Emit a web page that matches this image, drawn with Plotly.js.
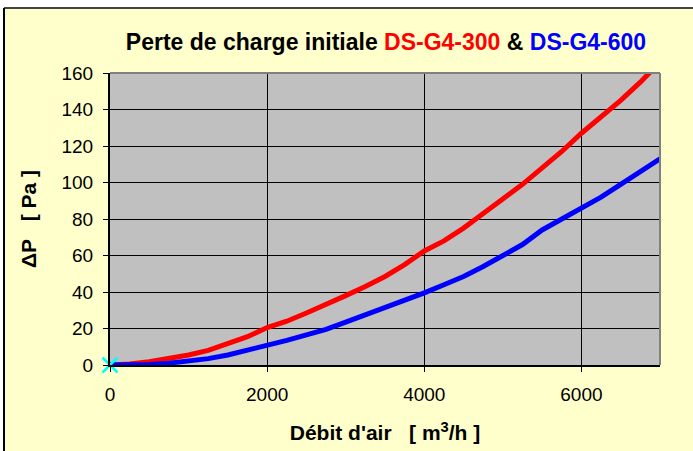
<!DOCTYPE html>
<html>
<head>
<meta charset="utf-8">
<script src="https://cdn.plot.ly/plotly-3.0.1.min.js"></script>
<style>html,body{margin:0;padding:0;background:#fff;}</style>
</head>
<body>
<div id="chart" style="width:693px;height:451px;"></div>
<script>
// Air flow (m3/h)
const flow = [0,250,500,750,1000,1250,1500,1750,2000,2250,2500,2750,3000,3250,3500,3750,4000,4250,4500,4750,5000,5250,5500,5750,6000,6250,6500,6750,7000];
// Pressure drop DS-G4-300 (Pa)
const dp300 = [0,0.5,1.8,3.5,5.5,8,11.5,15.5,20.5,24,28.5,33,38,43,48.5,55,62.5,68,75,83,91,99,108,117,127,136,145,155,166];
// Pressure drop DS-G4-600 (Pa)
const dp600 = [0,0,0.3,1,2,3.5,5.5,8,11,13.5,16.5,19.5,23.5,27.5,31.5,35,39.5,44,48.5,54,60,66,74,80,86,92,99,106,113];
const originX = [0];
const originY = [0];

const traces = [
  {x: flow, y: dp300, mode: 'lines', name: 'DS-G4-300', line: {color: '#FF0000', width: 5}},
  {x: flow, y: dp600, mode: 'lines', name: 'DS-G4-600', line: {color: '#0000FF', width: 5}},
  {x: originX, y: originY, mode: 'markers', name: 'origine', cliponaxis: false, marker: {symbol: 'x-thin-open', size: 15, color: '#00FFFF', line: {color: '#00FFFF', width: 2.5}}}
];

const W = 693, H = 451, L = 110, R = 33, T = 73, B = 86;
const pw = W - L - R, ph = H - T - B;
function px(x) { return (x - L) / pw; }
function py(y) { return (H - B - y) / ph; }

const layout = {
  width: W, height: H,
  margin: {l: L, r: R, t: T, b: B, pad: 0},
  paper_bgcolor: '#FFFFCC',
  plot_bgcolor: '#C0C0C0',
  showlegend: false,
  font: {family: 'Arial, Liberation Sans, sans-serif', color: '#000', size: 19},
  title: {
    text: '<b>Perte de charge initiale <span style="color:#FF0000">DS-G4-300</span> &amp; <span style="color:#0000FF">DS-G4-600</span></b>',
    font: {size: 23, family: 'Arial, Liberation Sans, sans-serif', color: '#000'},
    x: 386 / W, xanchor: 'center', y: 1 - 42 / H, yanchor: 'middle'
  },
  xaxis: {
    range: [0, 7000], dtick: 2000, tick0: 0,
    showgrid: true, gridcolor: '#000', gridwidth: 1,
    zeroline: false, showline: true, linecolor: '#000', linewidth: 2,
    ticks: 'outside', ticklen: 5, tickcolor: '#000', tickwidth: 1,
    ticklabelstandoff: 6,
    tickfont: {size: 19},
    title: {text: '<b>Débit d\'air&nbsp;&nbsp;&nbsp;[ m<sup>3</sup>/h ]</b>', font: {size: 21}, standoff: 22}
  },
  yaxis: {
    range: [0, 160], dtick: 20, tick0: 0,
    showgrid: true, gridcolor: '#000', gridwidth: 1,
    zeroline: false, showline: true, linecolor: '#000', linewidth: 2,
    ticks: 'outside', ticklen: 5, tickcolor: '#000', tickwidth: 1,
    ticklabelstandoff: 6,
    tickfont: {size: 19},
    title: {text: '<b>ΔP&nbsp;&nbsp;&nbsp;[ Pa ]</b>', font: {size: 21}, standoff: 19}
  },
  shapes: [
    // white margin outside the frame
    {type: 'rect', xref: 'paper', yref: 'paper', x0: px(-5), x1: px(W + 5), y0: py(8), y1: py(-5), fillcolor: '#FFFFFF', line: {width: 0}, layer: 'above'},
    {type: 'rect', xref: 'paper', yref: 'paper', x0: px(-5), x1: px(4), y0: py(H + 5), y1: py(-5), fillcolor: '#FFFFFF', line: {width: 0}, layer: 'above'},
    // frame border
    {type: 'line', xref: 'paper', yref: 'paper', x0: px(4), x1: px(W + 5), y0: py(8), y1: py(8), line: {color: '#444', width: 2}, layer: 'above'},
    {type: 'line', xref: 'paper', yref: 'paper', x0: px(4), x1: px(4), y0: py(8), y1: py(H + 5), line: {color: '#000', width: 2}, layer: 'above'},
    // plot area top/right border
    {type: 'line', xref: 'paper', yref: 'paper', x0: 0, x1: 1, y0: 1, y1: 1, line: {color: '#808080', width: 2}, layer: 'above'},
    {type: 'line', xref: 'paper', yref: 'paper', x0: 1, x1: 1, y0: 0, y1: 1, line: {color: '#808080', width: 2}, layer: 'above'}
  ]
};

Plotly.newPlot('chart', traces, layout, {displayModeBar: false, staticPlot: true});
</script>
</body>
</html>
